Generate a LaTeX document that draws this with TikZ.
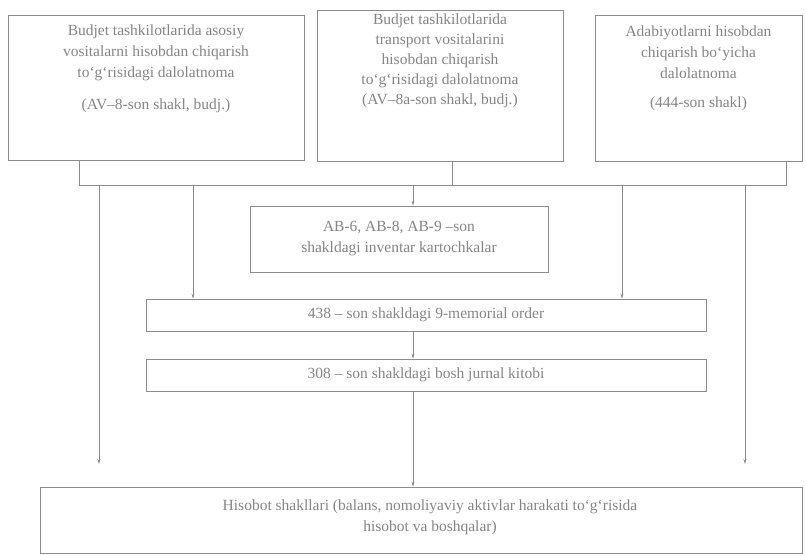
\documentclass[tikz,border=0pt]{standalone}
\usepackage{fontspec}
\setmainfont{Liberation Serif}
\usetikzlibrary{arrows.meta}
\definecolor{inkline}{gray}{0.55}
\definecolor{inktext}{gray}{0.52}
\begin{document}
\begin{tikzpicture}[x=1pt,y=-1pt,
  frame/.style={draw=inkline, line width=0.7pt, inner sep=0pt},
  caption/.style={text=inktext, align=center, font=\fontsize{15.5}{21}\selectfont, inner sep=0pt},
  link/.style={draw=inkline, line width=0.7pt},
  flow/.style={link, -{Stealth[length=5pt,width=3pt]}}
]
\useasboundingbox (0,0) rectangle (806,556);

% source documents
\node[frame, minimum width=296pt, minimum height=145pt] (b1) at (156,87.5) {};
\node[caption, anchor=north] (t1) at (156,25) {Budjet tashkilotlarida asosiy\\vositalarni hisobdan chiqarish\\to‘g‘risidagi dalolatnoma\\[11pt](AV–8-son shakl, budj.)};

\node[frame, minimum width=246pt, minimum height=151pt] (b2) at (440,85.5) {};
\node[caption, anchor=north, font=\fontsize{15.5}{20}\selectfont] (t2) at (440,14) {Budjet tashkilotlarida\\transport vositalarini\\hisobdan chiqarish\\to‘g‘risidagi dalolatnoma\\(AV–8a-son shakl, budj.)};

\node[frame, minimum width=207pt, minimum height=146pt] (b3) at (698.5,88) {};
\node[caption, anchor=north] (t3) at (698.5,26) {Adabiyotlarni hisobdan\\chiqarish bo‘yicha\\dalolatnoma\\[8pt](444-son shakl)};

% registers
\node[frame, minimum width=298pt, minimum height=66pt, caption] (ab) at (399,239) {AB-6, AB-8, AB-9 –son\\shakldagi inventar kartochkalar};
\node[frame, minimum width=560pt, minimum height=32pt, caption] (mo) at (426,315) {438 – son shakldagi 9-memorial order};
\node[frame, minimum width=560pt, minimum height=32pt, caption] (bj) at (426,375) {308 – son shakldagi bosh jurnal kitobi};
\node[frame, minimum width=762pt, minimum height=66pt] (rep) at (421,520) {};
\node[caption, anchor=north] (t4) at (430,500) {Hisobot shakllari (balans, nomoliyaviy aktivlar harakati to‘g‘risida\\hisobot va boshqalar)};

% collecting line under the source documents
\coordinate (s1) at (79,185);
\coordinate (s2) at (452,185);
\coordinate (s3) at (786,185);
\coordinate (d1) at (99,185);
\coordinate (d2) at (193,185);
\coordinate (d3) at (413,185);
\coordinate (d4) at (622,185);
\coordinate (d5) at (745,185);
\coordinate (e1) at (99,464);
\coordinate (e5) at (745,464);

\draw[link] (b1.south -| s1) -- (s1) -- (s3) -- (b3.south -| s3);
\draw[link] (b2.south -| s2) -- (s2);

\draw[flow] (d3) -- (ab.north -| d3);
\draw[flow] (d2) -- (mo.north -| d2);
\draw[flow] (d4) -- (mo.north -| d4);
\draw[flow] (d1) -- (e1);
\draw[flow] (d5) -- (e5);
\draw[flow] (mo.south -| d3) -- (bj.north -| d3);
\draw[flow] (bj.south -| d3) -- (rep.north -| d3);
\end{tikzpicture}
\end{document}
